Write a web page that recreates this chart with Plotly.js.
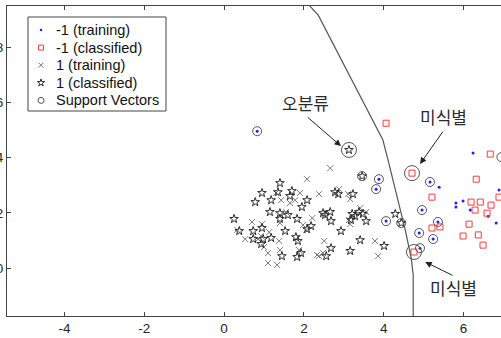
<!DOCTYPE html>
<html><head><meta charset="utf-8">
<script src="https://cdn.plot.ly/plotly-3.0.1.min.js"></script>
<style>html,body{margin:0;padding:0;overflow:hidden;background:#fff}#c{width:501px;height:338px}</style>
</head><body><div id="c"></div>
<script>
// -1 (training): blue dots
const negTrainX = [6.24,5.39,5.81,5.81,5.99,6.17,6.62,6.82,6.89,0.83,3.88,3.81,4.06,5.16,4.96,5.36,4.89,5.24,4.91];
const negTrainY = [4.17,2.93,2.36,2.21,2.43,2.10,1.88,1.63,2.83,4.96,3.22,2.86,1.70,3.12,2.10,1.67,1.27,1.05,0.72];
// -1 (classified): red squares
const negClsX = [4.06,4.71,5.21,5.21,5.41,4.76,6.32,6.67,6.19,6.42,6.69,6.29,6.59,6.14,5.99,6.37,6.49,6.89];
const negClsY = [5.25,3.44,2.57,1.45,1.49,0.58,3.22,4.13,2.39,2.39,2.28,2.10,1.99,1.59,1.16,1.20,0.83,2.57];
// 1 (training): gray crosses
const posTrainX = [2.66,2.08,2.38,1.90,2.88,3.11,3.16,1.43,1.65,1.78,1.30,0.70,1.40,1.55,0.95,1.13,0.33,0.53,0.85,0.93,1.00,1.38,1.40,1.10,1.10,1.33,1.88,1.98,2.21,2.06,2.51,2.33,2.38,2.48,3.13,3.16,3.41,3.56,3.78,3.86];
const posTrainY = [3.62,3.22,2.68,2.72,2.86,2.68,2.50,2.46,2.36,2.46,2.72,1.67,1.63,2.03,1.59,1.30,1.38,1.05,1.05,1.16,0.76,0.98,0.65,0.54,0.18,0.11,0.65,1.56,1.81,1.38,0.98,0.47,0.43,0.54,1.74,1.59,2.17,2.03,0.98,0.43];
// 1 (classified): black stars
const posClsX = [1.40,0.95,1.35,1.70,1.65,1.18,0.78,2.08,1.95,1.15,1.40,1.40,1.60,1.83,0.25,2.78,2.86,3.23,2.66,2.68,2.48,2.53,3.21,3.28,3.38,3.48,3.56,3.18,4.29,0.38,0.73,0.73,0.95,0.98,0.93,1.18,1.53,1.80,1.85,2.08,2.18,2.93,3.41,4.01,3.16,2.68,2.56,1.93,1.83,1.45,3.46,4.44,3.13];
const posClsY = [3.08,2.72,2.75,2.79,2.61,2.46,2.39,2.46,2.21,2.03,1.99,1.78,1.92,1.78,1.78,2.75,2.68,2.68,2.03,1.70,1.99,1.92,1.96,1.88,2.03,1.96,1.70,1.74,1.96,1.34,1.05,1.34,1.45,1.05,0.87,1.09,1.34,1.12,0.98,1.41,1.52,1.34,1.01,0.80,0.62,0.72,0.43,0.54,0.40,0.43,3.33,1.63,4.28];
// Support vectors
const svX = [0.83,3.46,3.88,3.81,4.06,4.44,5.16,4.96,5.36,4.89,5.24,4.91,6.95];
const svY = [4.96,3.33,3.22,2.86,1.70,1.63,3.12,2.10,1.67,1.27,1.05,0.72,4.02];
// Highlighted (annotated) points
const hlX = [3.13,4.71,4.76];
const hlY = [4.28,3.44,0.58];
const hlText = ['오분류','미식별','미식별'];
// Decision boundary
const bX = [2.13,2.36,3.98,4.11,4.54,4.69,4.74,4.74];
const bY = [9.53,9.17,4.64,3.91,1.38,0.36,-0.25,-1.8];
const xTicks = [-4,-2,0,2,4,6];
const yTicks = [0,2,4,6,8];
const legendNames = ['-1 (training)','-1 (classified)','1 (training)','1 (classified)','Support Vectors'];

const styles = [
  {symbol:'circle',size:3,color:'#1f1fff'},
  {symbol:'square-open',size:6,color:'#ff3b3b',line:{width:1}},
  {symbol:'x-thin-open',size:6,color:'#7a7a7a',line:{width:1}},
  {symbol:'star-open',size:6.5,color:'#2a2a2a',line:{width:1}},
  {symbol:'circle-open',size:9,color:'#555',line:{width:1}}
];
const legStyles = [
  {symbol:'circle',size:2.5,color:'#1f1fff'},
  {symbol:'square-open',size:5,color:'#ff3b3b',line:{width:1}},
  {symbol:'x-thin-open',size:5,color:'#7a7a7a',line:{width:1}},
  {symbol:'star-open',size:5.5,color:'#2a2a2a',line:{width:1}},
  {symbol:'circle-open',size:6,color:'#555',line:{width:1}}
];
const xs = [negTrainX,negClsX,posTrainX,posClsX,svX];
const ys = [negTrainY,negClsY,posTrainY,posClsY,svY];

const traces = [];
for (let i=0;i<5;i++){
  traces.push({x:xs[i],y:ys[i],mode:'markers',type:'scatter',name:legendNames[i],marker:styles[i]});
}
traces.push({x:hlX,y:hlY,mode:'markers',type:'scatter',hoverinfo:'skip',
   marker:{symbol:'circle-open',size:15,color:'#555',line:{width:1}}});
traces.push({x:bX,y:bY,mode:'lines',type:'scatter',line:{color:'#555',width:1.2}});

// manual legend (pixel-unit overlay axes)
const legX0 = 28, legY0 = 17, legRow = 17.6, legFirst = 30;
const annotations = [];
for (let i=0;i<5;i++){
  const yy = legFirst + legRow*i;
  traces.push({x:[41],y:[yy],xaxis:'x2',yaxis:'y2',mode:'markers',type:'scatter',marker:legStyles[i],hoverinfo:'skip'});
  annotations.push({x:54,y:yy,xref:'x2',yref:'y2',xanchor:'left',yanchor:'middle',showarrow:false,text:legendNames[i],
    font:{family:'Liberation Sans, Arial, sans-serif',size:14.5,color:'#111'}});
}

const tip = [[2.06,5.51],[5.51,5.00],[5.76,-0.29]];
const head = [[2.93,4.42],[4.91,3.77],[5.04,0.22]];
const txt = [[2.03,6.01],[5.49,5.51],[5.76,-0.72]];
for (let i=0;i<hlX.length;i++){
  annotations.push({x:head[i][0],y:head[i][1],ax:tip[i][0],ay:tip[i][1],axref:'x',ayref:'y',
    xref:'x',yref:'y',showarrow:true,arrowhead:2,arrowsize:1.3,arrowwidth:1,arrowcolor:'#222',text:''});
  annotations.push({x:txt[i][0],y:txt[i][1],xref:'x',yref:'y',showarrow:false,text:hlText[i],
    font:{family:'Noto Sans CJK KR, sans-serif',size:17,color:'#2a2a2a'}});
}

const W=501,H=338,mL=7,mT=6,mB=22;
const pw=W-mL, ph=H-mT-mB;
const layout = {
  width:W,height:H,
  margin:{l:mL,r:0,t:mT,b:mB},
  paper_bgcolor:'#fff',plot_bgcolor:'#fff',
  showlegend:false,
  xaxis:{range:[-5.44,6.94],tickvals:xTicks,ticktext:xTicks.map(String),ticks:'inside',ticklen:4,tickcolor:'#444',
    showline:true,linecolor:'#444',linewidth:1,mirror:'ticks',showgrid:false,zeroline:false,
    tickfont:{family:'Liberation Sans, Arial, sans-serif',size:13.5,color:'#262626'}},
  yaxis:{range:[-1.74,9.5],tickvals:yTicks,ticktext:yTicks.map(String),ticks:'inside',ticklen:4,tickcolor:'#444',
    showline:true,linecolor:'#444',linewidth:1,mirror:false,showgrid:false,zeroline:false,
    tickfont:{family:'Liberation Sans, Arial, sans-serif',size:13.5,color:'#262626'}},
  xaxis2:{overlaying:'x',anchor:'y2',range:[mL,W],visible:false,fixedrange:true},
  yaxis2:{overlaying:'y',anchor:'x2',range:[H-mB,mT],visible:false,fixedrange:true},
  shapes:[{type:'rect',xref:'paper',yref:'paper',layer:'below',
    x0:(legX0-mL)/pw,x1:(166-mL)/pw,y0:1-(111-mT)/ph,y1:1-(legY0-mT)/ph,
    line:{color:'#444',width:1},fillcolor:'#fff'}],
  annotations:annotations
};
Plotly.newPlot('c',traces,layout,{staticPlot:true});
</script></body></html>
